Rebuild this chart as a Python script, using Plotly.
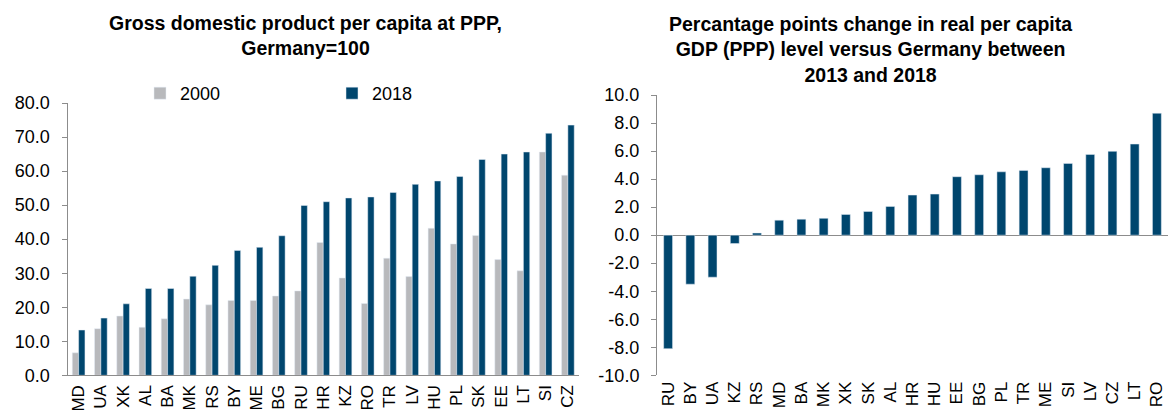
import plotly.graph_objects as go

# Left chart data: GDP per capita at PPP, Germany=100
left_countries = ["MD", "UA", "XK", "AL", "BA", "MK", "RS", "BY", "ME", "BG", "RU", "HR",
                  "KZ", "RO", "TR", "LV", "HU", "PL", "SK", "EE", "LT", "SI", "CZ"]
values_2000 = [6.6, 13.7, 17.4, 14.1, 16.6, 22.4, 20.7, 22.0, 22.0, 23.3, 24.8, 39.0,
               28.6, 21.1, 34.4, 29.0, 43.2, 38.6, 41.1, 34.0, 30.7, 65.6, 58.8]
values_2018 = [13.3, 16.8, 21.0, 25.5, 25.5, 29.1, 32.3, 36.7, 37.6, 41.0, 49.9, 51.0,
               52.1, 52.4, 53.7, 56.1, 57.1, 58.4, 63.4, 65.0, 65.6, 71.1, 73.5]

# Right chart data: pp change 2013-2018 vs Germany
right_countries = ["RU", "BY", "UA", "KZ", "RS", "MD", "BA", "MK", "XK", "SK", "AL", "HR",
                   "HU", "EE", "BG", "PL", "TR", "ME", "SI", "LV", "CZ", "LT", "RO"]
change_values = [-8.1, -3.5, -3.0, -0.6, 0.15, 1.07, 1.14, 1.2, 1.48, 1.69, 2.05, 2.86,
                 2.93, 4.17, 4.31, 4.52, 4.62, 4.81, 5.12, 5.76, 5.98, 6.5, 8.7]

left_ticks = [0, 10, 20, 30, 40, 50, 60, 70, 80]
right_ticks = [-10, -8, -6, -4, -2, 0, 2, 4, 6, 8, 10]

GRAY = "#b8b9bc"
BLUE = "#00466e"
AXIS = "#8c8c8c"
FONT = "Liberation Sans, Arial, sans-serif"

fig = go.Figure()
fig.add_trace(go.Bar(x=left_countries, y=values_2000, name="2000", marker_color=GRAY,
                     xaxis="x", yaxis="y"))
fig.add_trace(go.Bar(x=left_countries, y=values_2018, name="2018", marker_color=BLUE,
                     xaxis="x", yaxis="y"))
fig.add_trace(go.Bar(x=right_countries, y=change_values, name="change", marker_color=BLUE,
                     xaxis="x2", yaxis="y2", showlegend=False, width=0.4))

W, H = 1171, 412
def px_x(p): return p / W
def px_y(p): return 1 - p / H

fig.update_layout(
    width=W, height=H,
    margin=dict(l=0, r=0, t=0, b=0),
    paper_bgcolor="white", plot_bgcolor="white",
    font=dict(family=FONT, size=17, color="#000000"),
    barmode="group", bargap=0.43, bargroupgap=0.0,
    showlegend=True,
    legend=dict(orientation="h", x=px_x(140), y=px_y(75), xanchor="left", yanchor="top",
                font=dict(size=18), entrywidth=147, entrywidthmode="pixels",
                bgcolor="rgba(0,0,0,0)", itemwidth=30),
    xaxis=dict(domain=[px_x(67.5), px_x(579)], anchor="y", type="category",
               showline=True, linecolor=AXIS, linewidth=1, ticks="", tickangle=-90,
               showgrid=False, automargin=False, tickfont=dict(size=17),
               ticklabelstandoff=2),
    yaxis=dict(domain=[px_y(375.3), px_y(103)], anchor="x", range=[0, 80],
               tickvals=left_ticks, ticktext=[f"{v:.1f}" for v in left_ticks],
               showline=True, linecolor=AXIS, linewidth=1, ticks="outside", ticklen=5,
               tickcolor=AXIS, showgrid=False, zeroline=False, automargin=False,
               tickfont=dict(size=18), ticklabelstandoff=8),
    xaxis2=dict(domain=[px_x(657), px_x(1168)], anchor="y2", type="category",
                showline=False, ticks="", tickangle=-90, showgrid=False,
                automargin=False, tickfont=dict(size=17), ticklabelstandoff=2),
    yaxis2=dict(domain=[px_y(375.3), px_y(95)], anchor="x2", range=[-10, 10],
                tickvals=right_ticks, ticktext=[f"{v:.1f}" for v in right_ticks],
                showline=True, linecolor=AXIS, linewidth=1, ticks="outside", ticklen=5,
                tickcolor=AXIS, showgrid=False, zeroline=True, zerolinecolor=AXIS,
                zerolinewidth=1, automargin=False, tickfont=dict(size=18),
                ticklabelstandoff=8),
    annotations=[
        dict(text="<b>Gross domestic product per capita at PPP,<br>Germany=100</b>",
             x=px_x(305), y=px_y(10), xref="paper", yref="paper", xanchor="center",
             yanchor="top", showarrow=False, font=dict(size=19.5)),
        dict(text="<b>Percantage points change in real per capita<br>GDP (PPP) level versus Germany between<br>2013 and 2018</b>",
             x=px_x(870), y=px_y(11), xref="paper", yref="paper", xanchor="center",
             yanchor="top", showarrow=False, font=dict(size=19.5)),
    ],
)

fig.write_html("out.html", config={"displayModeBar": False},
               post_script="document.body.style.margin='0';document.body.style.overflow='hidden';")
